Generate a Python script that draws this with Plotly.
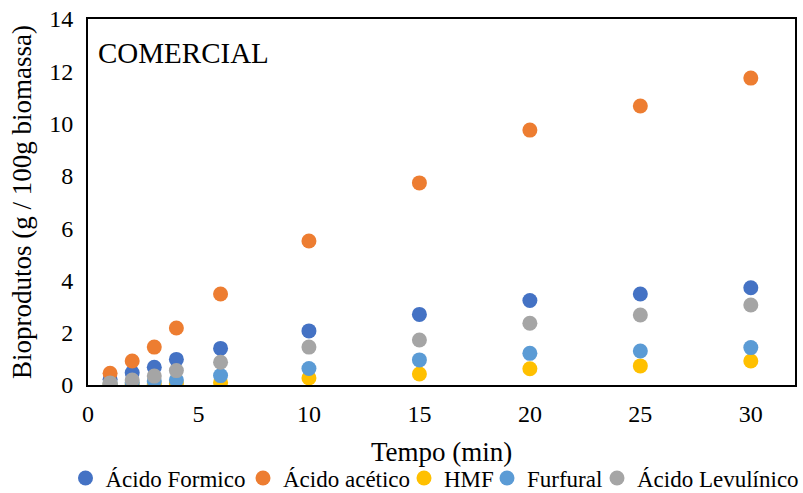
import plotly.graph_objects as go

tempo = [1, 2, 3, 4, 6, 10, 15, 20, 25, 30]
acido_formico = [0.22, 0.47, 0.68, 0.98, 1.40, 2.07, 2.70, 3.23, 3.48, 3.72]
acido_acetico = [0.45, 0.92, 1.45, 2.18, 3.48, 5.51, 7.73, 9.75, 10.67, 11.74]
hmf = [0.02, 0.03, 0.04, 0.06, 0.10, 0.27, 0.42, 0.62, 0.73, 0.92]
furfural = [0.05, 0.10, 0.15, 0.19, 0.36, 0.63, 0.96, 1.21, 1.30, 1.43]
acido_levulinico = [0.08, 0.19, 0.34, 0.55, 0.87, 1.45, 1.72, 2.36, 2.68, 3.06]

series = [
    ("Ácido Formico", acido_formico, "#4472C4"),
    ("Ácido acético", acido_acetico, "#ED7D31"),
    ("HMF", hmf, "#FFC000"),
    ("Furfural", furfural, "#5B9BD5"),
    ("Ácido Levulínico", acido_levulinico, "#A5A5A5"),
]
# legend entry marker-centre positions (px in the 803-wide page)
legend_marker_x = [85.5, 263, 424, 507, 617]

font_family = "Liberation Serif, Times New Roman, serif"
W, H = 803, 493
plot_top, plot_bottom = 19, 385

fig = go.Figure()
legend_layouts = {}
for i, (name, vals, color) in enumerate(series):
    key = "legend" if i == 0 else f"legend{i + 1}"
    fig.add_trace(go.Scatter(
        x=tempo, y=vals, mode="markers", name=name, legend=key,
        marker=dict(size=15, color=color, line=dict(width=0)),
    ))
    legend_layouts[key] = dict(
        orientation="h", xref="container", yref="container",
        x=(legend_marker_x[i] - 20) / W, xanchor="left",
        y=15 / H, yanchor="middle",
        font=dict(family=font_family, size=23, color="black"),
        itemwidth=30, bgcolor="rgba(0,0,0,0)", borderwidth=0,
    )

plot_h = plot_bottom - plot_top

fig.update_layout(
    template="none",
    width=W, height=H,
    margin=dict(l=88, r=8, t=plot_top, b=H - plot_bottom, autoexpand=False),
    paper_bgcolor="white", plot_bgcolor="white",
    font=dict(family=font_family, size=24, color="black"),
    showlegend=True,
    xaxis=dict(
        range=[0, 32], tickvals=[0, 5, 10, 15, 20, 25, 30],
        showgrid=False, zeroline=False, automargin=False,
        showline=True, linecolor="black", linewidth=2, mirror=True,
        ticks="", tickfont=dict(size=24), ticklabelstandoff=6,
    ),
    yaxis=dict(
        range=[0, 14], tickvals=[0, 2, 4, 6, 8, 10, 12, 14],
        showgrid=False, zeroline=False, automargin=False,
        showline=True, linecolor="black", linewidth=2, mirror=True,
        ticks="", tickfont=dict(size=24), ticklabelstandoff=8,
        title=dict(text="Bioprodutos (g / 100g biomassa)", font=dict(size=27), standoff=10),
    ),
    annotations=[
        dict(
            text="COMERCIAL", xref="paper", yref="paper", x=0.012, y=0.955,
            xanchor="left", yanchor="top", showarrow=False,
            font=dict(family=font_family, size=29, color="black"),
        ),
        dict(
            text="Tempo (min)", xref="paper", yref="paper", x=0.5,
            y=-(452 - plot_bottom) / plot_h, xanchor="center", yanchor="middle",
            showarrow=False, font=dict(family=font_family, size=27, color="black"),
        ),
    ],
    **legend_layouts,
)

fig.write_html("out.html")
